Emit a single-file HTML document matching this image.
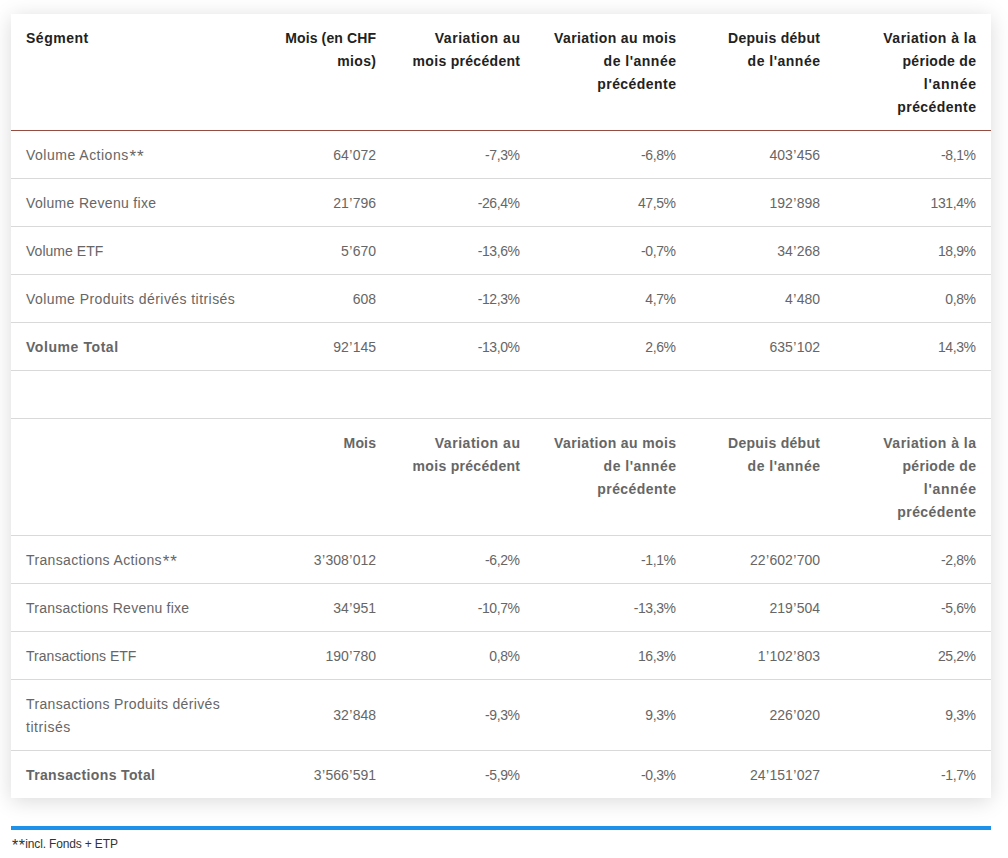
<!DOCTYPE html>
<html><head><meta charset="utf-8">
<style>
html,body{margin:0;padding:0;background:#fff;width:1008px;height:858px;overflow:hidden;}
body{position:relative;font-family:"Liberation Sans",sans-serif;}
.wrap{position:absolute;left:11px;top:14px;width:980px;background:#fff;box-shadow:0 3px 20px rgba(0,0,0,0.15);}
table{border-collapse:collapse;table-layout:fixed;width:980px;}
td,th{padding:13px 15px 11px;line-height:23px;font-size:14px;text-align:right;vertical-align:top;color:#666;font-weight:normal;border-bottom:1px solid #d9d9d9;white-space:nowrap;}
td:first-child,th:first-child{text-align:left;}
tr.h1 th{font-weight:bold;color:#222;border-bottom:1px solid #934d42;}
tr.h2 td{font-weight:bold;}
td.b{font-weight:bold;}
tr.mid td{vertical-align:middle;padding-top:12px;padding-bottom:12px;}
tr.mid td:first-child{padding-top:13px;padding-bottom:11px;}
tr.last td{border-bottom:none;}
.blue{position:absolute;left:11px;top:826px;width:980px;height:4px;background:#1e91eb;}
.foot{position:absolute;left:11px;top:835px;font-size:12px;line-height:18px;color:#333;}
.ast{font-size:17px;line-height:0;position:relative;top:2px;}
.fast{font-size:16px;line-height:0;position:relative;top:3px;margin-left:1px;}
.ap{margin:0 0.35px;}

</style></head><body>
<div class="wrap">
<table>
<colgroup><col style="width:250px"><col style="width:130px"><col style="width:144px"><col style="width:156px"><col style="width:144px"><col style="width:156px"></colgroup>
<tr class="h1"><th><div style="letter-spacing:0.510px;margin-right:-0.510px">Ségment</div></th><th><div style="letter-spacing:0.122px;margin-right:-0.122px">Mois (en CHF</div><div style="letter-spacing:0.346px;margin-right:-0.346px">mios)</div></th><th><div style="letter-spacing:0.534px;margin-right:-0.534px">Variation au</div><div style="letter-spacing:0.303px;margin-right:-0.303px">mois précédent</div></th><th><div style="letter-spacing:0.373px;margin-right:-0.373px">Variation au mois</div><div style="letter-spacing:0.501px;margin-right:-0.501px">de l'année</div><div style="letter-spacing:0.450px;margin-right:-0.450px">précédente</div></th><th><div style="letter-spacing:0.300px;margin-right:-0.300px">Depuis début</div><div style="letter-spacing:0.501px;margin-right:-0.501px">de l'année</div></th><th><div style="letter-spacing:0.484px;margin-right:-0.484px">Variation à la</div><div style="letter-spacing:0.305px;margin-right:-0.305px">période de</div><div style="letter-spacing:0.750px;margin-right:-0.750px">l'année</div><div style="letter-spacing:0.450px;margin-right:-0.450px">précédente</div></th></tr>
<tr><td><div style="letter-spacing:0.497px;margin-right:-0.497px">Volume Actions<span class="ast" style="margin-left:0.8px;letter-spacing:1.0px">**</span></div></td><td>64<span class="ap">’</span>072</td><td><span style="letter-spacing:-0.4px;margin-right:0.4px">-7,3%</span></td><td><span style="letter-spacing:-0.4px;margin-right:0.4px">-6,8%</span></td><td>403<span class="ap">’</span>456</td><td><span style="letter-spacing:-0.4px;margin-right:0.4px">-8,1%</span></td></tr>
<tr><td><div style="letter-spacing:0.331px;margin-right:-0.331px">Volume Revenu fixe</div></td><td>21<span class="ap">’</span>796</td><td><span style="letter-spacing:-0.4px;margin-right:0.4px">-26,4%</span></td><td><span style="letter-spacing:-0.4px;margin-right:0.4px">47,5%</span></td><td>192<span class="ap">’</span>898</td><td><span style="letter-spacing:-0.4px;margin-right:0.4px">131,4%</span></td></tr>
<tr><td><div style="letter-spacing:0.029px;margin-right:-0.029px">Volume ETF</div></td><td>5<span class="ap">’</span>670</td><td><span style="letter-spacing:-0.4px;margin-right:0.4px">-13,6%</span></td><td><span style="letter-spacing:-0.4px;margin-right:0.4px">-0,7%</span></td><td>34<span class="ap">’</span>268</td><td><span style="letter-spacing:-0.4px;margin-right:0.4px">18,9%</span></td></tr>
<tr><td><div style="letter-spacing:0.435px;margin-right:-0.435px">Volume Produits dérivés titrisés</div></td><td>608</td><td><span style="letter-spacing:-0.4px;margin-right:0.4px">-12,3%</span></td><td><span style="letter-spacing:-0.4px;margin-right:0.4px">4,7%</span></td><td>4<span class="ap">’</span>480</td><td><span style="letter-spacing:-0.4px;margin-right:0.4px">0,8%</span></td></tr>
<tr><td class="b"><div style="letter-spacing:0.572px;margin-right:-0.572px">Volume Total</div></td><td>92<span class="ap">’</span>145</td><td><span style="letter-spacing:-0.4px;margin-right:0.4px">-13,0%</span></td><td><span style="letter-spacing:-0.4px;margin-right:0.4px">2,6%</span></td><td>635<span class="ap">’</span>102</td><td><span style="letter-spacing:-0.4px;margin-right:0.4px">14,3%</span></td></tr>
<tr class="sp"><td>&nbsp;</td><td>&nbsp;</td><td>&nbsp;</td><td>&nbsp;</td><td>&nbsp;</td><td>&nbsp;</td></tr>
<tr class="h2"><td></td><td><div style="letter-spacing:0.188px;margin-right:-0.188px">Mois</div></td><td><div style="letter-spacing:0.534px;margin-right:-0.534px">Variation au</div><div style="letter-spacing:0.303px;margin-right:-0.303px">mois précédent</div></td><td><div style="letter-spacing:0.373px;margin-right:-0.373px">Variation au mois</div><div style="letter-spacing:0.501px;margin-right:-0.501px">de l'année</div><div style="letter-spacing:0.450px;margin-right:-0.450px">précédente</div></td><td><div style="letter-spacing:0.300px;margin-right:-0.300px">Depuis début</div><div style="letter-spacing:0.501px;margin-right:-0.501px">de l'année</div></td><td><div style="letter-spacing:0.484px;margin-right:-0.484px">Variation à la</div><div style="letter-spacing:0.305px;margin-right:-0.305px">période de</div><div style="letter-spacing:0.750px;margin-right:-0.750px">l'année</div><div style="letter-spacing:0.450px;margin-right:-0.450px">précédente</div></td></tr>
<tr><td><div style="letter-spacing:0.362px;margin-right:-0.362px">Transactions Actions<span class="ast" style="margin-left:0.8px;letter-spacing:1.0px">**</span></div></td><td>3<span class="ap">’</span>308<span class="ap">’</span>012</td><td><span style="letter-spacing:-0.4px;margin-right:0.4px">-6,2%</span></td><td><span style="letter-spacing:-0.4px;margin-right:0.4px">-1,1%</span></td><td>22<span class="ap">’</span>602<span class="ap">’</span>700</td><td><span style="letter-spacing:-0.4px;margin-right:0.4px">-2,8%</span></td></tr>
<tr><td><div style="letter-spacing:0.248px;margin-right:-0.248px">Transactions Revenu fixe</div></td><td>34<span class="ap">’</span>951</td><td><span style="letter-spacing:-0.4px;margin-right:0.4px">-10,7%</span></td><td><span style="letter-spacing:-0.4px;margin-right:0.4px">-13,3%</span></td><td>219<span class="ap">’</span>504</td><td><span style="letter-spacing:-0.4px;margin-right:0.4px">-5,6%</span></td></tr>
<tr><td><div style="letter-spacing:0.031px;margin-right:-0.031px">Transactions ETF</div></td><td>190<span class="ap">’</span>780</td><td><span style="letter-spacing:-0.4px;margin-right:0.4px">0,8%</span></td><td><span style="letter-spacing:-0.4px;margin-right:0.4px">16,3%</span></td><td>1<span class="ap">’</span>102<span class="ap">’</span>803</td><td><span style="letter-spacing:-0.4px;margin-right:0.4px">25,2%</span></td></tr>
<tr class="mid"><td><div style="letter-spacing:0.351px;margin-right:-0.351px">Transactions Produits dérivés</div><div style="letter-spacing:0.552px;margin-right:-0.552px">titrisés</div></td><td>32<span class="ap">’</span>848</td><td><span style="letter-spacing:-0.4px;margin-right:0.4px">-9,3%</span></td><td><span style="letter-spacing:-0.4px;margin-right:0.4px">9,3%</span></td><td>226<span class="ap">’</span>020</td><td><span style="letter-spacing:-0.4px;margin-right:0.4px">9,3%</span></td></tr>
<tr class="last"><td class="b"><div style="letter-spacing:0.370px;margin-right:-0.370px">Transactions Total</div></td><td>3<span class="ap">’</span>566<span class="ap">’</span>591</td><td><span style="letter-spacing:-0.4px;margin-right:0.4px">-5,9%</span></td><td><span style="letter-spacing:-0.4px;margin-right:0.4px">-0,3%</span></td><td>24<span class="ap">’</span>151<span class="ap">’</span>027</td><td><span style="letter-spacing:-0.4px;margin-right:0.4px">-1,7%</span></td></tr>
</table>
</div>
<div class="blue"></div>
<div class="foot"><span class="fast" style="letter-spacing:0.4px">**</span><span style="letter-spacing:-0.15px;margin-left:0.0px">incl. Fonds + ETP</span></div>
</body></html>
